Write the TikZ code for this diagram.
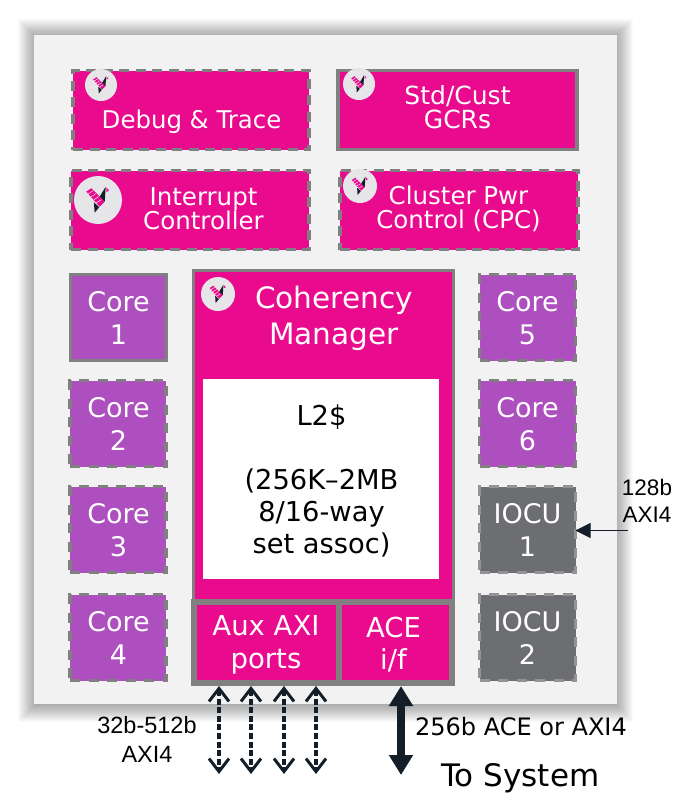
\documentclass[tikz,border=0pt]{standalone}
\usepackage{fontspec}
\setmainfont{DejaVu Sans}
\newfontfamily\arialfont{Liberation Sans}
\usetikzlibrary{arrows.meta}
\definecolor{mag}{HTML}{EA0A8E}
\definecolor{purp}{HTML}{AE4FC0}
\definecolor{iogray}{HTML}{6D6E72}
\definecolor{edgegray}{HTML}{808080}
\definecolor{panel}{HTML}{F2F2F2}
\definecolor{logobg}{HTML}{E6E6E8}
\definecolor{ink}{HTML}{141E28}
\newcommand{\fs}[1]{\fontsize{#1}{#1}\selectfont}
\tikzset{
  x=1pt,y=-1pt,
  blk/.style={draw=edgegray,line width=3.5pt,inner sep=0pt,outer sep=0pt,anchor=center},
  dsh/.style={dash pattern=on 10pt off 6.5pt},
  dshc/.style={dash pattern=on 10pt off 8.5pt,line width=3.2pt},
  magbox/.style={blk,fill=mag},
  corebox/.style={blk,fill=purp},
  iobox/.style={blk,fill=iogray,draw=edgegray!85!white},
  lab/.style={text=white,align=center,inner sep=0pt,font=\fs{#1}},
  lab/.default=24,
  pitch/.style={execute at begin node={\baselineskip=#1pt\lineskip=0pt\lineskiplimit=-100pt}},
  note/.style={text=black,align=center,inner sep=0pt},
  barb/.style={draw=ink,line width=3.3pt,dash pattern=on 6pt off 2.6pt,
    {Straight Barb[length=13pt,width=20pt,line width=3pt]}-{Straight Barb[length=13pt,width=20pt,line width=3pt]}},
  logo/.pic={
    \fill[logobg] (0,0) circle (1);
    \fill[mag] (-.49,-.35) -- (-.28,-.49) -- (.28,.07) -- (.07,.28) -- cycle;
    \foreach \t in {.15,.35,.55,.75}{
      \draw[white,line width=.45pt] ({-.49+.56*\t},{-.35+.63*\t}) -- ({-.28+.56*\t},{-.49+.63*\t});}
    \fill[ink] (.32,-.55) -- (.07,-.14) -- (.28,.07) -- cycle;
    \fill[ink] (-.17,.1) -- (.05,.3) -- (-.14,.53) -- cycle;
    \fill[mag] (.35,-.52) -- (.46,-.4) -- (.35,-.33) -- cycle;
  }
}
\begin{document}
\begin{tikzpicture}
\useasboundingbox (0,0) rectangle (687,798);
\fill[white] (0,0) rectangle (687,798);
% soft shadow
\foreach \d in {16,15,...,-2}{
  \fill[black,opacity=.02] ({34-\d},{35-\d}) rectangle ({617+\d},{704+\d+2});
}
\node[fill=panel,inner sep=0pt,minimum width=583pt,minimum height=669pt] (panel) at (325.5,369.5) {};

% top blocks
\node[magbox,dsh,minimum width=236pt,minimum height=79pt] (debug) at (191,110) {};
\node[magbox,minimum width=239pt,minimum height=79pt] (gcr) at (457.5,110) {};
\node[magbox,dsh,minimum width=238pt,minimum height=79pt] (irq) at (190,210) {};
\node[magbox,dsh,minimum width=238pt,minimum height=79pt] (cpc) at (459,210) {};

% cores
\node[corebox,minimum width=96pt,minimum height=86pt] (c1) at (118.5,317.5) {};
\node[corebox,dshc,minimum width=96pt,minimum height=86pt] (c2) at (118,423.5) {};
\node[corebox,dshc,minimum width=96pt,minimum height=86pt] (c3) at (118,529.5) {};
\node[corebox,dshc,minimum width=96pt,minimum height=86pt] (c4) at (118,637.5) {};
\node[corebox,dshc,minimum width=96pt,minimum height=86pt] (c5) at (527.5,317.5) {};
\node[corebox,dshc,minimum width=96pt,minimum height=86pt] (c6) at (527.5,423.5) {};
\node[iobox,dshc,minimum width=96pt,minimum height=86pt] (io1) at (527.5,529.5) {};
\node[iobox,dshc,minimum width=96pt,minimum height=86pt] (io2) at (527.5,637.5) {};

% coherency manager
\node[magbox,minimum width=260pt,minimum height=331pt] (cm) at (323.5,436) {};
\node[fill=white,inner sep=0pt,minimum width=236pt,minimum height=200pt] (l2) at (321,479) {};
\node[magbox,line width=5.5pt,minimum width=145pt,minimum height=81pt] (aux) at (266.5,642.5) {};
\node[magbox,line width=5.5pt,minimum width=113pt,minimum height=81pt] (ace) at (395.5,642.5) {};

% logos
\pic[scale=16] at (101,85) {logo};
\pic[scale=16] at (359,84) {logo};
\pic[scale=24] at (98,200) {logo};
\pic[scale=17] at (360,186) {logo};
\pic[scale=17] at (218,294) {logo};

% labels
\node[lab=24.4] (tdebug) at (191.5,122) {Debug \& Trace};
\node[lab=25,pitch=24] (tgcr) at (457.5,107) {Std/Cust\\GCRs};
\node[lab=24.5,pitch=24] (tirq) at (203.5,209) {Interrupt\\Controller};
\node[lab=24.5,pitch=24] (tcpc) at (458.5,209) {Cluster Pwr\\Control (CPC)};
\node[lab=27,pitch=32.5] at (118.5,318) {Core\\1};
\node[lab=27,pitch=32.5] at (118.5,424) {Core\\2};
\node[lab=27,pitch=32.5] at (118.5,530) {Core\\3};
\node[lab=27,pitch=32.5] at (118.5,638) {Core\\4};
\node[lab=27,pitch=32.5] at (527.5,318) {Core\\5};
\node[lab=27,pitch=32.5] at (527.5,424) {Core\\6};
\node[lab=27,pitch=32.5] at (527.5,530) {IOCU\\1};
\node[lab=27,pitch=32.5] at (527.5,638) {IOCU\\2};
\node[lab=29.5,pitch=36] at (334,318) {Coherency\\Manager};
\node[note,font=\fs{27.3},pitch=32] at (321.5,480.5) {L2\$\\[32pt](256K–2MB\\8/16-way\\set assoc)};
\node[lab=27.5,pitch=32.5] at (266,645) {Aux AXI\\ports};
\node[lab=27.5,pitch=32.5] at (393.5,644.5) {ACE\\i/f};

% connectors
\foreach \n/\x in {1/219,2/251,3/284,4/316}{
  \coordinate (p\n t) at (\x,686);
  \coordinate (p\n b) at (\x,774);
  \draw[barb] (p\n t) -- (p\n b);
}
\coordinate (sysT) at (401,686);
\coordinate (sysB) at (401,775);
\draw[draw=ink,line width=7.5pt,{Triangle[length=20pt,width=23pt]}-{Triangle[length=20pt,width=23pt]}] (sysT) -- (sysB);
\coordinate (ioin) at (628,530.5);
\draw[draw=ink,line width=1pt,-{Triangle[length=15pt,width=15pt]}] (ioin) -- (io1.east |- ioin);

% outside text
\node[note,font={\arialfont\fs{22.5}},pitch=27] at (647,501) {128b\\AXI4};
\node[note,font={\arialfont\fs{23.5}},pitch=29] at (147,739) {32b-512b\\AXI4};
\node[note,font=\fs{24},anchor=west] at (415,727) {256b ACE or AXI4};
\node[note,font=\fs{31},anchor=west] at (441,778) {To System};
\end{tikzpicture}
\end{document}
